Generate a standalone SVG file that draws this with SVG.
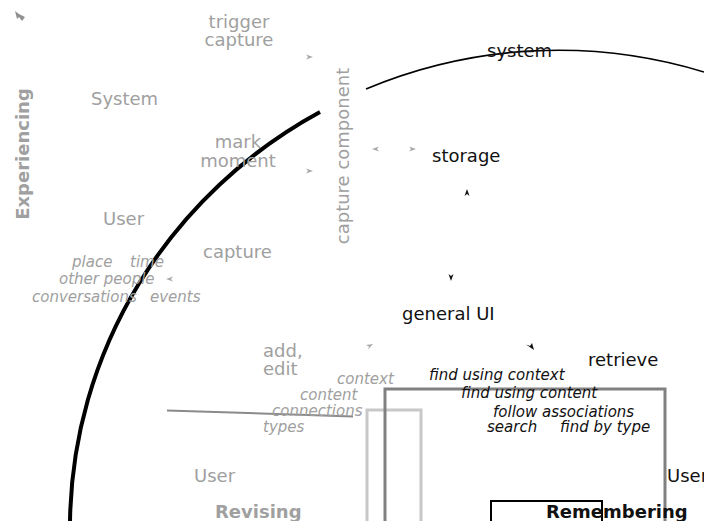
<svg xmlns="http://www.w3.org/2000/svg" width="704" height="521" viewBox="0 0 704 521">
  <style>
    text { font-family: "DejaVu Sans", "Liberation Sans", sans-serif; font-size: 18px; }
    .gray { fill: #a0a0a0; }
    .dark { fill: #111; }
    .it { font-style: italic; font-size: 15px; }
    .bold { font-weight: bold; }
    .mid { text-anchor: middle; }
    .ga { fill: #a8a8a8; }
    .ba { fill: #111; }
  </style>
  <rect width="704" height="521" fill="#fff"/>

  <!-- system boundary: two arcs of one large ellipse -->
  <g id="boundary" fill="none" stroke="#000">
    <path d="M 70 521 A 487 476 0 0 1 320 112" stroke-width="4"/>
    <path d="M 366 89 A 487 476 0 0 1 704 72" stroke-width="1.6"/>
  </g>

  <!-- frames -->
  <g id="frames" fill="none">
    <path d="M 367 521 V 410 H 421 V 521" stroke="#c8c8c8" stroke-width="3"/>
    <path d="M 385 521 V 389 H 665 V 521" stroke="#808080" stroke-width="3"/>
    <path d="M 491 521 V 501 H 602 V 521" stroke="#000" stroke-width="2"/>
    <path d="M 167 410.5 L 353 416.5" stroke="#8a8a8a" stroke-width="2"/>
  </g>

  <!-- connector arrowheads -->
  <g id="connectors">
    <path d="M 15 11 L 19 14 L 25 17 L 22 21 L 19 17 L 17 19 Z" fill="#909090"/>
    <path d="M 313 57 L 306 54.5 L 308 57 L 306 59.5 Z" class="ga"/>
    <path d="M 313 171 L 306 168.5 L 308 171 L 306 173.5 Z" class="ga"/>
    <path d="M 372 149 L 379 146.5 L 377 149 L 379 151.5 Z" class="ga"/>
    <path d="M 416 149 L 409 146.5 L 411 149 L 409 151.5 Z" class="ga"/>
    <path d="M 166 279 L 173 276.5 L 171 279 L 173 281.5 Z" class="ga"/>
    <path d="M 373 344 L 366 345 L 369 346.5 L 368 349.5 Z" class="ga"/>
    <path d="M 467 189 L 464.5 196 L 467 194 L 469.5 196 Z" class="ba"/>
    <path d="M 451 281 L 448.5 274 L 451 276 L 453.5 274 Z" class="ba"/>
    <path d="M 534 350 L 526 344.5 L 530 346 L 532 343 Z" class="ba"/>
  </g>

  <g id="experiencing">
    <text class="gray bold mid" transform="translate(29 154) rotate(-90)">Experiencing</text>
  </g>
  <g id="trigger-capture">
    <text class="gray mid" x="239" y="28">trigger</text>
    <text class="gray mid" x="239" y="46">capture</text>
  </g>
  <g id="system-actor">
    <text class="gray" x="91" y="105">System</text>
  </g>
  <g id="mark-moment">
    <text class="gray mid" x="238" y="148">mark</text>
    <text class="gray mid" x="238" y="167">moment</text>
  </g>
  <g id="user-experiencing">
    <text class="gray" x="103" y="225">User</text>
  </g>
  <g id="capture">
    <text class="gray" x="203" y="258">capture</text>
  </g>
  <g id="context-items">
    <text class="gray it" x="72" y="267">place</text>
    <text class="gray it" x="130" y="267">time</text>
    <text class="gray it" x="59" y="284">other people</text>
    <text class="gray it" x="32" y="302">conversations</text>
    <text class="gray it" x="150" y="302">events</text>
  </g>
  <g id="capture-component">
    <text class="gray mid" transform="translate(349 156) rotate(-90)">capture component</text>
  </g>
  <g id="system">
    <text class="dark" x="487" y="57">system</text>
  </g>
  <g id="storage">
    <text class="dark" x="432" y="162">storage</text>
  </g>
  <g id="general-ui">
    <text class="dark" x="402" y="320">general UI</text>
  </g>
  <g id="retrieve">
    <text class="dark" x="588" y="366">retrieve</text>
  </g>
  <g id="add-edit">
    <text class="gray" x="263" y="357">add,</text>
    <text class="gray" x="263" y="375">edit</text>
  </g>
  <g id="revise-items">
    <text class="gray it" x="337" y="384">context</text>
    <text class="gray it" x="300" y="400">content</text>
    <text class="gray it" x="272" y="416">connections</text>
    <text class="gray it" x="263" y="432">types</text>
  </g>
  <g id="retrieve-items">
    <text class="dark it" x="429" y="380">find using context</text>
    <text class="dark it" x="461" y="398">find using content</text>
    <text class="dark it" x="493" y="417">follow associations</text>
    <text class="dark it" x="487" y="432">search</text>
    <text class="dark it" x="560" y="432">find by type</text>
  </g>
  <g id="user-revising">
    <text class="gray" x="194" y="482">User</text>
  </g>
  <g id="revising">
    <text class="gray bold" x="215" y="518">Revising</text>
  </g>
  <g id="user-remembering">
    <text class="dark" x="667" y="482">User</text>
  </g>
  <g id="remembering">
    <text class="dark bold" x="546" y="518">Remembering</text>
  </g>
</svg>
